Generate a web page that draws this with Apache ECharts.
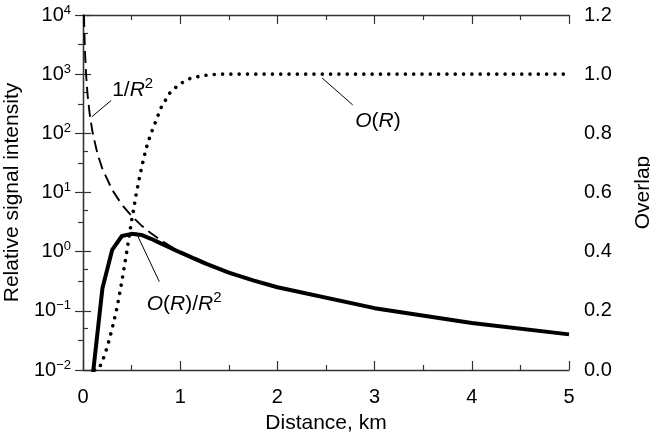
<!DOCTYPE html>
<html>
<head>
<meta charset="utf-8">
<script src="https://cdn.jsdelivr.net/npm/echarts@6/dist/echarts.min.js"></script>
<style>
html, body { margin: 0; padding: 0; background: #fff; }
#chart { width: 650px; height: 434px; }
</style>
</head>
<body>
<div id="chart"></div>
<script>
// distance (km) and the three curves
var distInv = [0.01, 0.015, 0.02, 0.03, 0.04, 0.05, 0.07, 0.1, 0.15, 0.2, 0.3, 0.4, 0.5, 0.6, 0.7, 0.8, 0.9, 1.0, 1.5, 2, 3, 4, 5];
var invR2   = [10000, 4444, 2500, 1111, 625, 400, 204, 100, 44.4, 25, 11.1, 6.25, 4, 2.78, 2.04, 1.56, 1.23, 1, 0.444, 0.25, 0.111, 0.0625, 0.04];

var distO   = [0.12, 0.16, 0.2, 0.25, 0.3, 0.35, 0.4, 0.45, 0.5, 0.55, 0.6, 0.65, 0.7, 0.8, 0.9, 1.0, 1.1, 1.2, 1.3, 1.4, 5];
var overlap = [0, 0.002, 0.03, 0.078, 0.14, 0.21, 0.30, 0.40, 0.505, 0.60, 0.68, 0.75, 0.80, 0.885, 0.94, 0.968, 0.985, 0.993, 0.998, 1.0, 1.0];

var distS   = [0.1, 0.2, 0.3, 0.4, 0.5, 0.6, 0.7, 0.8, 0.9, 1.0, 1.25, 1.5, 1.75, 2, 3, 4, 5];
var signal  = [0.008, 0.24, 1.07, 1.84, 2.0, 1.92, 1.65, 1.38, 1.16, 0.97, 0.64, 0.444, 0.327, 0.25, 0.111, 0.0625, 0.04];

// axis ticks
var logMajor = [0.01, 0.1, 1, 10, 100, 1000, 10000];
var logMinor = [0.05, 0.5, 5, 50, 500, 5000];

var FONT = "'Liberation Sans', Arial, Helvetica, sans-serif";
var INK = '#000';
var AXIS = '#333';

var chart = echarts.init(document.getElementById('chart'));

function pairs(xs, ys) {
    var out = [];
    for (var i = 0; i < xs.length; i++) out.push([xs[i], ys[i]]);
    return out;
}

function powLabel(v) {
    var e = Math.round(Math.log(v) / Math.LN10);
    var s = e < 0 ? '\u2212' + (-e) : '' + e;
    return '{b|10}{s|' + s + '}';
}

var annRich = {
    n: { fontSize: 21, fontFamily: FONT, color: INK },
    i: { fontSize: 21, fontFamily: FONT, fontStyle: 'italic', color: INK },
    s: { fontSize: 15, fontFamily: FONT, color: INK, padding: [0, 0, 12, 0] }
};

function note(x, y, txt) {
    return {
        coord: [x, y],
        symbol: 'circle',
        symbolSize: 0,
        label: {
            show: true, position: 'inside', align: 'left', verticalAlign: 'middle',
            formatter: txt, rich: annRich
        }
    };
}

var tickLine = { color: AXIS, width: 1.2 };
var axisLine = { show: true, lineStyle: { color: AXIS, width: 1.3 } };

var option = {
    animation: false,
    backgroundColor: '#fff',
    textStyle: { fontFamily: FONT },
    grid: { left: 83, right: 81, top: 15, bottom: 64, containLabel: false, outerBoundsMode: 'none' },
    xAxis: [{
        type: 'value', min: 0, max: 5, interval: 1, position: 'bottom',
        name: 'Distance, km', nameLocation: 'middle', nameGap: 43,
        nameTextStyle: { fontSize: 21, color: INK, fontFamily: FONT },
        axisLine: axisLine,
        axisTick: { inside: true, length: 9, lineStyle: tickLine },
        minorTick: { show: true, splitNumber: 2, length: 5, lineStyle: tickLine },
        axisLabel: { fontSize: 20, color: INK, margin: 17, fontFamily: FONT },
        splitLine: { show: false }
    }, {
        type: 'value', min: 0, max: 5, interval: 1, position: 'top',
        axisLine: axisLine,
        axisTick: { inside: true, length: 9, lineStyle: tickLine },
        minorTick: { show: true, splitNumber: 2, length: 5, lineStyle: tickLine },
        axisLabel: { show: false },
        splitLine: { show: false }
    }],
    yAxis: [{
        type: 'log', logBase: 10, min: 0.01, max: 10000, position: 'left',
        name: 'Relative signal intensity', nameLocation: 'middle', nameGap: 58,
        nameTextStyle: { fontSize: 21, color: INK, fontFamily: FONT },
        axisLine: axisLine,
        axisTick: { inside: true, length: 8, lineStyle: tickLine, customValues: logMajor },
        axisLabel: {
            margin: 12, color: INK, customValues: logMajor,
            formatter: powLabel,
            rich: {
                b: { fontSize: 20, fontFamily: FONT, color: INK },
                s: { fontSize: 13, fontFamily: FONT, color: INK, padding: [0, 0, 10, 0] }
            }
        },
        splitLine: { show: false }
    }, {
        type: 'value', min: 0, max: 1.2, interval: 0.2, position: 'right',
        name: 'Overlap', nameLocation: 'middle', nameGap: 64,
        nameTextStyle: { fontSize: 21, color: INK, fontFamily: FONT },
        axisLine: axisLine,
        axisTick: { inside: true, length: 8, lineStyle: tickLine },
        minorTick: { show: true, splitNumber: 2, length: 5, lineStyle: tickLine },
        axisLabel: {
            fontSize: 20, color: INK, margin: 15, fontFamily: FONT,
            formatter: function (v) { return v.toFixed(1); }
        },
        splitLine: { show: false }
    }, {
        // minor ticks of the log axis (5 x 10^n)
        type: 'log', logBase: 10, min: 0.01, max: 10000, position: 'left',
        axisLine: { show: false },
        axisTick: { inside: true, length: 5, lineStyle: tickLine, customValues: logMinor },
        axisLabel: { show: false },
        splitLine: { show: false }
    }],
    series: [{
        name: '1/R2',
        type: 'line', xAxisIndex: 0, yAxisIndex: 0,
        data: pairs(distInv, invR2),
        showSymbol: false, symbol: 'none', z: 2,
        lineStyle: { color: INK, width: 1.9, type: [12, 6] },
        markLine: {
            silent: true, symbol: 'none', label: { show: false },
            lineStyle: { color: INK, width: 1, type: 'solid' },
            data: [[{ coord: [0.09, 190] }, { coord: [0.29, 360] }]]
        },
        markPoint: {
            silent: true,
            data: [note(0.3, 540, '{n|1/}{i|R}{s|2}')]
        }
    }, {
        name: 'O(R)',
        type: 'line', xAxisIndex: 0, yAxisIndex: 1,
        data: pairs(distO, overlap),
        showSymbol: false, symbol: 'none', z: 3,
        lineStyle: { color: INK, width: 3.6, type: [0.01, 8.3], cap: 'round' },
        markLine: {
            silent: true, symbol: 'none', label: { show: false },
            lineStyle: { color: INK, width: 1, type: 'solid' },
            data: [[{ coord: [2.46, 0.987] }, { coord: [2.775, 0.896] }]]
        },
        markPoint: {
            silent: true,
            data: [note(2.8, 0.842, '{i|O}{n|(}{i|R}{n|)}')]
        }
    }, {
        name: 'O(R)/R2',
        type: 'line', xAxisIndex: 0, yAxisIndex: 0,
        data: pairs(distS, signal),
        showSymbol: false, symbol: 'none', z: 4,
        lineStyle: { color: INK, width: 4 },
        markLine: {
            silent: true, symbol: 'none', label: { show: false },
            lineStyle: { color: INK, width: 1, type: 'solid' },
            data: [[{ coord: [0.545, 2.13] }, { coord: [0.785, 0.311] }]]
        },
        markPoint: {
            silent: true,
            data: [note(0.655, 0.13, '{i|O}{n|(}{i|R}{n|)/}{i|R}{s|2}')]
        }
    }]
};

chart.setOption(option);
</script>
</body>
</html>
